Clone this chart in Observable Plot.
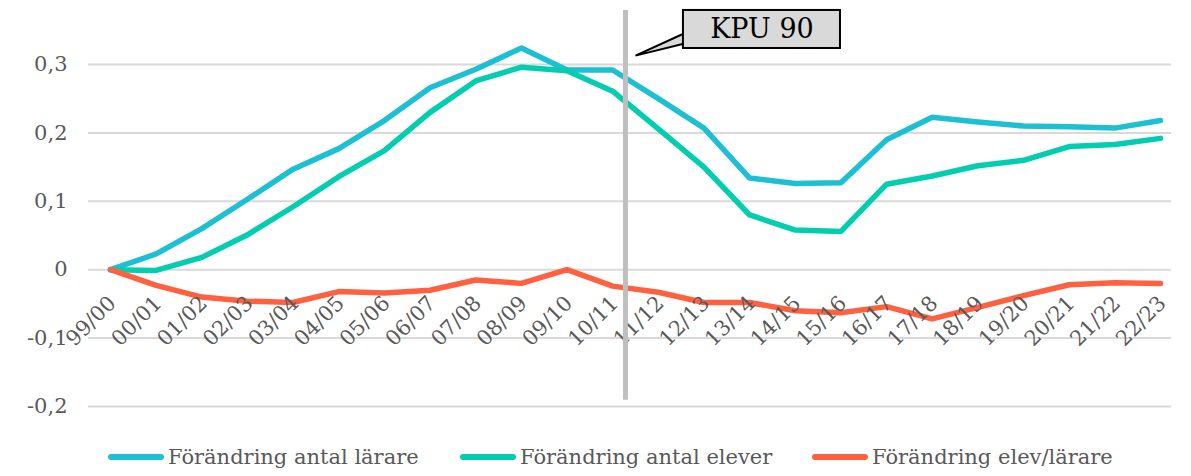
<!DOCTYPE html>
<html>
<head>
<meta charset="utf-8">
<script src="https://cdn.jsdelivr.net/npm/d3@7"></script>
<script src="https://cdn.jsdelivr.net/npm/@observablehq/plot@0.6"></script>
<style>
  html, body { margin: 0; padding: 0; background: #fff; }
  #wrap { position: relative; width: 1191px; height: 476px; font-family: "DejaVu Serif", serif; }
  .leg { position: absolute; top: 444px; height: 26px; display: flex; align-items: center; font-size: 21px; color: #595959; white-space: nowrap; }
  .sw { display: inline-block; width: 56px; height: 6px; border-radius: 3px; margin-right: 4px; }
</style>
</head>
<body>
<div id="wrap"></div>
<script>
const labels = ["99/00","00/01","01/02","02/03","03/04","04/05","05/06","06/07","07/08","08/09","09/10","10/11","11/12","12/13","13/14","14/15","15/16","16/17","17/18","18/19","19/20","20/21","21/22","22/23"];
const larare = [0, 0.023, 0.060, 0.103, 0.147, 0.177, 0.218, 0.266, 0.293, 0.324, 0.292, 0.292, 0.250, 0.207, 0.134, 0.126, 0.127, 0.190, 0.223, 0.216, 0.210, 0.209, 0.207, 0.218];
const elever = [0, -0.001, 0.018, 0.051, 0.092, 0.136, 0.174, 0.230, 0.276, 0.296, 0.291, 0.261, 0.206, 0.150, 0.080, 0.058, 0.056, 0.125, 0.137, 0.152, 0.160, 0.180, 0.183, 0.192];
const elevLarare = [0, -0.023, -0.040, -0.046, -0.048, -0.032, -0.034, -0.030, -0.015, -0.020, 0, -0.024, -0.033, -0.048, -0.048, -0.060, -0.063, -0.054, -0.072, -0.055, -0.038, -0.022, -0.019, -0.020];
const seriesNames = ["Förändring antal lärare", "Förändring antal elever", "Förändring elev/lärare"];
const seriesColors = ["#1CC0D2", "#00CEAF", "#FF6040"];
const yTicks = [-0.2, -0.1, 0, 0.1, 0.2, 0.3];
const annotationText = "KPU 90";

const seriesValues = [larare, elever, elevLarare];
const rows = seriesValues.flatMap((vals, s) => vals.map((v, i) => ({ i, v, s: seriesNames[s] })));
const tickRows = labels.map((l, i) => ({ i, l }));

// annotation geometry (data coordinates: x = category index, y = value)
const kpu = { x: 11.28, y1: 0.379, y2: -0.191 };
const box = { x1: 12.55, x2: 15.99, y1: 0.3234, y2: 0.379 };
const pointer = [{ x: 12.55, y: 0.345 }, { x: 11.5, y: 0.313 }, { x: 12.6, y: 0.331 }];

const chart = Plot.plot({
  width: 1191,
  height: 430,
  marginTop: 64,
  marginBottom: 24,
  marginLeft: 88,
  marginRight: 20,
  style: { fontFamily: "DejaVu Serif, serif", fontSize: "21px", color: "#595959", background: "#fff", overflow: "visible" },
  x: { type: "linear", domain: [0, labels.length - 1], range: [110, 1160], axis: null },
  y: { domain: [-0.2, 0.3], axis: null },
  color: { domain: seriesNames, range: seriesColors },
  marks: [
    Plot.ruleY(yTicks, { stroke: "#d9d9d9", strokeWidth: 2 }),
    Plot.axisY(yTicks, { tickSize: 0, tickPadding: 21, fontSize: 21, fill: "#595959",
      tickFormat: d => String(+d.toFixed(1)).replace(".", ",") }),
    Plot.line(rows, { x: "i", y: "v", z: "s", stroke: "s", strokeWidth: 5.5, strokeLinejoin: "round", strokeLinecap: "round" }),
    Plot.text(tickRows, { x: "i", y: () => 0, text: "l", rotate: -45, textAnchor: "end",
      dx: 2, dy: 30, fontSize: 21, fill: "#595959" }),
    Plot.ruleX([kpu], { x: "x", y1: "y1", y2: "y2", stroke: "#bfbfbf", strokeWidth: 5 }),
    Plot.line(pointer, { x: "x", y: "y", fill: "#d9d9d9", stroke: "#000", strokeWidth: 2, strokeLinejoin: "miter" }),
    Plot.rect([box], { x1: "x1", x2: "x2", y1: "y1", y2: "y2", fill: "#d9d9d9", stroke: "#000", strokeWidth: 2 }),
    Plot.text([box], { x: d => (d.x1 + d.x2) / 2, y: d => (d.y1 + d.y2) / 2, text: () => annotationText,
      fontSize: 27, fill: "#000", fontFamily: "DejaVu Serif, serif" })
  ]
});

const wrap = document.getElementById("wrap");
wrap.appendChild(chart);

const legPos = [108, 460, 812];
seriesNames.forEach((n, k) => {
  const d = document.createElement("div");
  d.className = "leg";
  d.style.left = legPos[k] + "px";
  const sw = document.createElement("span");
  sw.className = "sw";
  sw.style.background = seriesColors[k];
  const t = document.createElement("span");
  t.textContent = n;
  d.appendChild(sw);
  d.appendChild(t);
  wrap.appendChild(d);
});
</script>
</body>
</html>
